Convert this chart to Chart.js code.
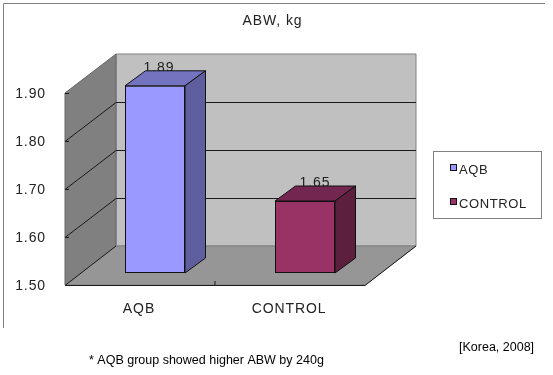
<!DOCTYPE html>
<html>
<head>
<meta charset="utf-8">
<style>
  html, body { margin: 0; background: #fff; }
  canvas { display: block; }
</style>
<script src="https://cdn.jsdelivr.net/npm/chart.js@4"></script>
</head>
<body>
<canvas id="abwChart" width="553" height="375"></canvas>
<script>
const categories = ["AQB", "CONTROL"];
const abwValues = [1.89, 1.65];
const frontColors = ["#9999ff", "#993366"];
const topColors = ["#7373bf", "#732650"];
const sideColors = ["#5f5f9f", "#5c1f3d"];

const chartTitle = "ABW, kg";
const noteText = "* AQB group showed higher ABW by 240g";
const sourceText = "[Korea, 2008]";

const textFont = '"Liberation Sans", Arial, sans-serif';
const spacing = "0.9px";

// depth of the floor and of the bars, the box is faked on top of the 2d scales
const floorDepth = { x: 51, y: 39 };
const barOffset = { x: 15, y: 12 };
const barDepth = { x: 20.5, y: 15 };
const labelShift = [4, 10];

function poly(ctx, pts, fill, stroke) {
  ctx.beginPath();
  pts.forEach((p, i) => (i ? ctx.lineTo(p[0], p[1]) : ctx.moveTo(p[0], p[1])));
  ctx.closePath();
  if (fill) {
    ctx.fillStyle = fill;
    ctx.fill();
  }
  if (stroke) {
    ctx.strokeStyle = stroke;
    ctx.lineWidth = 1;
    ctx.stroke();
  }
}

const box3d = {
  id: "box3d",
  beforeDraw(chart) {
    const { ctx, chartArea: a, scales } = chart;
    const dx = floorDepth.x;
    const dy = floorDepth.y;
    ctx.save();

    // outer frame
    ctx.strokeStyle = "#808080";
    ctx.lineWidth = 1;
    ctx.beginPath();
    ctx.moveTo(3.5, 328);
    ctx.lineTo(3.5, 3.5);
    ctx.lineTo(545, 3.5);
    ctx.stroke();

    // back wall, left wall, floor
    poly(ctx, [[a.left + dx, a.top - dy], [a.right + dx, a.top - dy], [a.right + dx, a.bottom - dy], [a.left + dx, a.bottom - dy]], "#c0c0c0", "#808080");
    poly(ctx, [[a.left, a.top], [a.left + dx, a.top - dy], [a.left + dx, a.bottom - dy], [a.left, a.bottom]], "#808080", "#666666");
    poly(ctx, [[a.left, a.bottom], [a.right, a.bottom], [a.right + dx, a.bottom - dy], [a.left + dx, a.bottom - dy]], "#969696", "#808080");

    // grid lines run along the left wall and then the back wall
    ctx.strokeStyle = "#1a1a1a";
    scales.y.ticks.forEach((t) => {
      const y = Math.round(scales.y.getPixelForValue(t.value)) + 0.5;
      ctx.beginPath();
      ctx.moveTo(a.left + 4, y);
      ctx.lineTo(a.left, y);
      if (t.value > scales.y.min && t.value < scales.y.max) {
        ctx.lineTo(a.left + dx, y - dy);
        ctx.lineTo(a.right + dx, y - dy);
      }
      ctx.stroke();
    });

    // front edges of the floor
    ctx.beginPath();
    ctx.moveTo(a.left + dx, a.bottom - dy);
    ctx.lineTo(a.left, a.bottom + 0.5);
    ctx.lineTo(a.right, a.bottom + 0.5);
    ctx.lineTo(a.right + dx, a.bottom - dy);
    ctx.stroke();
    const mid = scales.x.getPixelForValue(0.5);
    ctx.beginPath();
    ctx.moveTo(mid, a.bottom);
    ctx.lineTo(mid, a.bottom - 4);
    ctx.stroke();
    ctx.restore();
  },
  beforeDatasetsDraw(chart) {
    const { ctx } = chart;
    ctx.save();
    ctx.translate(barOffset.x, -barOffset.y);
  },
  afterDatasetsDraw(chart) {
    const { ctx } = chart;
    ctx.restore();
    const meta = chart.getDatasetMeta(0);
    ctx.save();
    ctx.letterSpacing = spacing;
    meta.data.forEach((bar, i) => {
      const l = bar.x - bar.width / 2 + barOffset.x;
      const r = bar.x + bar.width / 2 + barOffset.x;
      const t = bar.y - barOffset.y;
      const b = bar.base - barOffset.y;
      const dx = barDepth.x;
      const dy = barDepth.y;

      ctx.fillStyle = "#222222";
      ctx.font = "14px " + textFont;
      ctx.textAlign = "center";
      ctx.textBaseline = "alphabetic";
      ctx.fillText(abwValues[i].toFixed(2), bar.x + barOffset.x + labelShift[i], t - 14);

      poly(ctx, [[l, t], [l + dx, t - dy], [r + dx, t - dy], [r, t]], topColors[i], "#111111");
      poly(ctx, [[r, t], [r + dx, t - dy], [r + dx, b - dy], [r, b]], sideColors[i], "#111111");
    });
    ctx.restore();
  },
  afterDraw(chart) {
    const { ctx } = chart;
    ctx.save();

    // legend
    ctx.fillStyle = "#ffffff";
    ctx.strokeStyle = "#808080";
    ctx.lineWidth = 1;
    ctx.fillRect(433.5, 151.5, 108, 67);
    ctx.strokeRect(433.5, 151.5, 108, 67);
    ctx.letterSpacing = "0.6px";
    ctx.font = "13px " + textFont;
    ctx.textBaseline = "middle";
    ctx.textAlign = "left";
    categories.forEach((name, i) => {
      const y = 168 + i * 34;
      ctx.fillStyle = frontColors[i];
      ctx.strokeStyle = "#111111";
      ctx.fillRect(450.5, y - 3.5, 6, 6);
      ctx.strokeRect(450.5, y - 3.5, 6, 6);
      ctx.fillStyle = "#222222";
      ctx.fillText(name, 459, y + 2);
    });

    // notes under the chart
    ctx.letterSpacing = "0px";
    ctx.fillStyle = "#000000";
    ctx.font = "12.5px " + textFont;
    ctx.fillText(noteText, 89, 361);
    ctx.fillText(sourceText, 459, 348);
    ctx.restore();
  },
};

new Chart(document.getElementById("abwChart"), {
  type: "bar",
  data: {
    labels: categories,
    datasets: [
      {
        label: chartTitle,
        data: abwValues,
        base: 1.5,
        backgroundColor: frontColors,
        borderColor: "#111111",
        borderWidth: 1,
        borderSkipped: false,
        barPercentage: 0.4,
        categoryPercentage: 1,
        clip: false,
      },
    ],
  },
  options: {
    responsive: false,
    animation: false,
    layout: { padding: { left: 0, right: 8, top: 0, bottom: 0 } },
    plugins: {
      legend: { display: false },
      tooltip: { enabled: false },
      title: {
        display: true,
        text: chartTitle,
        color: "#222222",
        font: { family: textFont, size: 14, weight: "normal" },
        padding: { top: 13, bottom: 63.2 },
      },
    },
    scales: {
      x: {
        grid: { display: false, drawTicks: false },
        border: { display: false },
        ticks: { color: "#222222", padding: 16, labelOffset: -1, font: { family: textFont, size: 14 } },
        afterFit(scale) {
          scale.height = 90;
        },
      },
      y: {
        min: 1.5,
        max: 1.9,
        grid: { display: false, drawTicks: false },
        border: { display: false },
        ticks: {
          stepSize: 0.1,
          color: "#222222",
          padding: 19,
          labelOffset: 1,
          font: { family: textFont, size: 14 },
          callback: (v) => v.toFixed(2),
        },
        afterFit(scale) {
          scale.width = 65;
        },
      },
      // only keeps the room on the right where the legend sits
      spacer: {
        position: "right",
        min: 0,
        max: 1,
        grid: { display: false, drawTicks: false },
        border: { display: false },
        ticks: { display: false },
        afterFit(scale) {
          scale.width = 180;
        },
      },
    },
  },
  plugins: [
    box3d,
    {
      id: "textSpacing",
      beforeDraw(chart) {
        chart.ctx.letterSpacing = spacing;
      },
    },
  ],
});
</script>
</body>
</html>
